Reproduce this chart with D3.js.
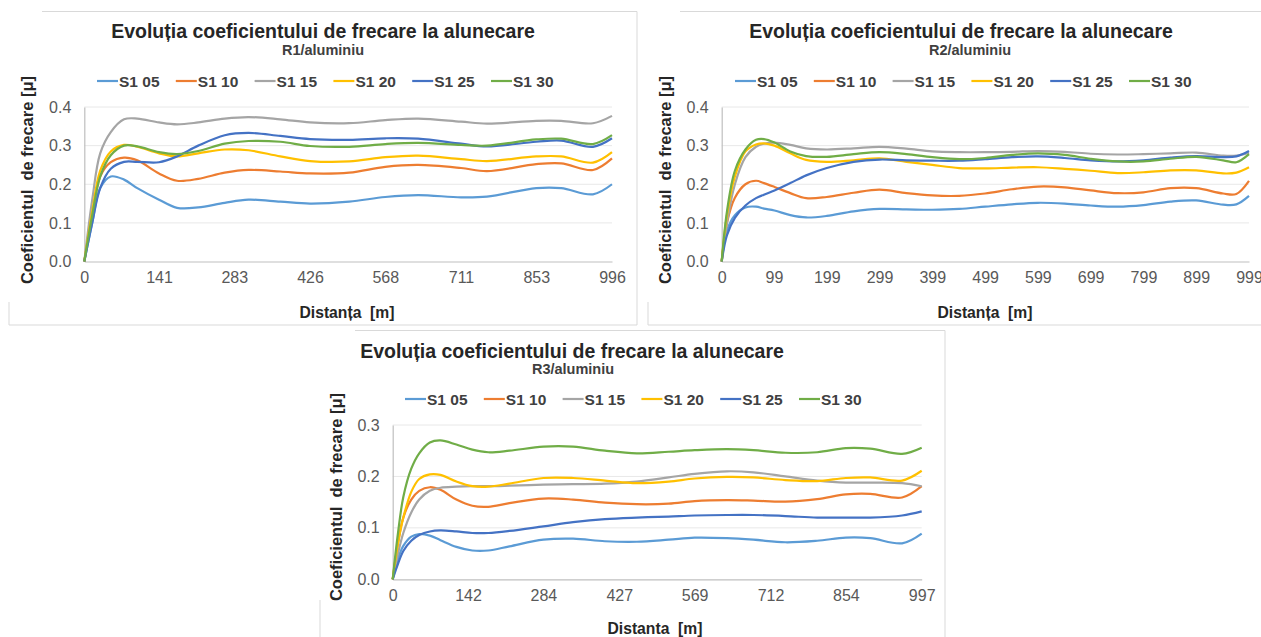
<!DOCTYPE html>
<html><head><meta charset="utf-8">
<script src="https://cdn.jsdelivr.net/npm/d3@7"></script>
<style>
html,body{margin:0;padding:0;background:#fff;}
svg{display:block;font-family:"Liberation Sans",Arial,sans-serif;}
text.pre{white-space:pre;}
</style></head>
<body><svg id="c" width="1261" height="637"></svg>
<script>
// ---------- DATA ----------
const seriesNames = ["S1 05","S1 10","S1 15","S1 20","S1 25","S1 30"];
const chartTitle = "Evoluția coeficientului de frecare la alunecare";
const subtitles = ["R1/aluminiu","R2/aluminiu","R3/aluminiu"];
const yTitle = "Coeficientul  de frecare [μ]";
const xTitles = ["Distanța  [m]","Distanța  [m]","Distanta  [m]"];

// R1
const r1Ticks = [0,141,283,426,568,711,853,996];
const r1YTicks = [0,0.1,0.2,0.3,0.4];
const r1X   = [0,15,30,50,75,100,141,175,215,265,310,370,426,500,568,630,711,760,853,900,960,996];
const r1S05 = [0,0.10,0.19,0.22,0.212,0.19,0.16,0.139,0.14,0.152,0.16,0.155,0.15,0.155,0.167,0.172,0.166,0.168,0.19,0.19,0.174,0.20];
const r1S10 = [0,0.12,0.22,0.257,0.269,0.262,0.228,0.209,0.214,0.23,0.237,0.233,0.228,0.23,0.245,0.25,0.242,0.234,0.252,0.254,0.237,0.267];
const r1S15 = [0,0.16,0.28,0.335,0.368,0.37,0.36,0.355,0.36,0.37,0.374,0.368,0.36,0.358,0.366,0.37,0.362,0.357,0.364,0.364,0.358,0.377];
const r1S20 = [0,0.13,0.235,0.285,0.302,0.297,0.28,0.272,0.28,0.29,0.288,0.272,0.26,0.259,0.27,0.274,0.265,0.26,0.272,0.272,0.256,0.283];
const r1S25 = [0,0.10,0.19,0.24,0.258,0.258,0.257,0.272,0.30,0.327,0.333,0.325,0.317,0.315,0.319,0.318,0.305,0.298,0.31,0.313,0.297,0.319];
const r1S30 = [0,0.12,0.22,0.275,0.30,0.298,0.283,0.278,0.286,0.305,0.312,0.31,0.299,0.297,0.304,0.307,0.302,0.30,0.316,0.318,0.304,0.327];

// R2
const r2Ticks = [0,99,199,299,399,499,599,699,799,899,999];
const r2YTicks = [0,0.1,0.2,0.3,0.4];
const r2X   = [0,10,25,45,65,80,100,130,160,199,250,299,350,399,450,499,550,599,650,699,750,799,850,899,950,975,999];
const r2S05 = [0,0.08,0.12,0.14,0.142,0.137,0.132,0.12,0.114,0.118,0.13,0.136,0.135,0.134,0.136,0.142,0.148,0.152,0.15,0.145,0.142,0.146,0.155,0.158,0.147,0.148,0.17];
const r2S10 = [0,0.10,0.165,0.20,0.209,0.203,0.193,0.177,0.164,0.167,0.178,0.186,0.177,0.171,0.17,0.176,0.187,0.194,0.192,0.184,0.177,0.179,0.19,0.19,0.176,0.175,0.209];
const r2S15 = [0,0.10,0.20,0.27,0.297,0.305,0.308,0.302,0.293,0.29,0.293,0.297,0.292,0.285,0.283,0.283,0.284,0.286,0.284,0.279,0.277,0.278,0.28,0.282,0.274,0.274,0.282];
const r2S20 = [0,0.12,0.22,0.285,0.303,0.306,0.30,0.28,0.263,0.258,0.262,0.267,0.258,0.25,0.242,0.241,0.243,0.244,0.24,0.235,0.229,0.231,0.236,0.236,0.228,0.23,0.244];
const r2S25 = [0,0.068,0.113,0.145,0.164,0.173,0.184,0.203,0.223,0.242,0.258,0.264,0.262,0.261,0.261,0.265,0.27,0.272,0.268,0.262,0.259,0.262,0.269,0.273,0.27,0.272,0.286];
const r2S30 = [0,0.13,0.235,0.29,0.315,0.317,0.308,0.285,0.273,0.271,0.278,0.283,0.278,0.27,0.265,0.268,0.276,0.28,0.276,0.266,0.259,0.259,0.266,0.271,0.262,0.257,0.278];

// R3
const r3Ticks = [0,142,284,427,569,712,854,997];
const r3YTicks = [0,0.1,0.2,0.3];
const r3X   = [0,10,20,35,50,70,90,120,150,180,220,284,340,400,460,520,569,630,680,740,800,854,900,960,997];
const r3S05 = [0,0.04,0.065,0.083,0.088,0.085,0.076,0.063,0.056,0.056,0.064,0.077,0.079,0.074,0.073,0.077,0.081,0.08,0.077,0.072,0.075,0.081,0.08,0.07,0.089];
const r3S10 = [0,0.07,0.12,0.155,0.172,0.179,0.174,0.155,0.143,0.141,0.148,0.157,0.155,0.149,0.146,0.147,0.152,0.154,0.153,0.151,0.156,0.165,0.166,0.159,0.181];
const r3S15 = [0,0.05,0.09,0.13,0.155,0.172,0.178,0.18,0.181,0.181,0.182,0.184,0.185,0.186,0.19,0.198,0.205,0.21,0.208,0.20,0.192,0.188,0.188,0.187,0.181];
const r3S20 = [0,0.07,0.12,0.17,0.195,0.204,0.203,0.19,0.181,0.18,0.186,0.197,0.197,0.192,0.187,0.19,0.196,0.199,0.198,0.193,0.191,0.197,0.198,0.192,0.211];
const r3S25 = [0,0.03,0.055,0.075,0.086,0.093,0.095,0.093,0.09,0.09,0.094,0.103,0.111,0.117,0.12,0.122,0.124,0.125,0.125,0.123,0.12,0.12,0.12,0.124,0.132];
const r3S30 = [0,0.09,0.16,0.215,0.245,0.266,0.27,0.262,0.252,0.247,0.25,0.258,0.258,0.25,0.245,0.248,0.251,0.253,0.251,0.246,0.247,0.255,0.254,0.244,0.256];

// ---------- STYLE / LAYOUT ----------
const colors = ["#5B9BD5","#ED7D31","#A5A5A5","#FFC000","#4472C4","#70AD47"];
const svg = d3.select("#c");

const panels = [
  {x: r1X, s: [r1S05,r1S10,r1S15,r1S20,r1S25,r1S30], ticks: r1Ticks, yTicks: r1YTicks, xMax: 996, yMax: 0.4,
   L: 84.3, R: 612, T: 107, B: 261.5, titleX: 323, titleY: 38, subX: 323, subY: 55, legX: 97, legY: 81,
   yTitleX: 27, yTitleY: 180, xTitleX: 347, xTitleY: 318, sub: subtitles[0], xt: xTitles[0]},
  {x: r2X, s: [r2S05,r2S10,r2S15,r2S20,r2S25,r2S30], ticks: r2Ticks, yTicks: r2YTicks, xMax: 999, yMax: 0.4,
   L: 721.7, R: 1249, T: 107, B: 261.5, titleX: 961, titleY: 38, subX: 970, subY: 55, legX: 735, legY: 81,
   yTitleX: 665, yTitleY: 180, xTitleX: 985, xTitleY: 318, sub: subtitles[1], xt: xTitles[1]},
  {x: r3X, s: [r3S05,r3S10,r3S15,r3S20,r3S25,r3S30], ticks: r3Ticks, yTicks: r3YTicks, xMax: 997, yMax: 0.3,
   L: 392.7, R: 921.7, T: 425, B: 579.3, titleX: 572, titleY: 358, subX: 573, subY: 374, legX: 405, legY: 399,
   yTitleX: 336, yTitleY: 497, xTitleX: 655, xTitleY: 634, sub: subtitles[2], xt: xTitles[2]}
];

// frames (light gray borders, as in the screenshot)
const frameColor = "#d9d9d9";
const frames = [
  [42,11.5,637,11.5],[637,11.5,637,325],[9,325,637,325],[9,302,9,325],
  [680,11.5,1261,11.5],[648,325,1261,325],[648,302,648,325],
  [355,330.5,945,330.5],[945,330.5,945,637],[320,600,320,637]
];
svg.selectAll("line.frame").data(frames).enter().append("line")
  .attr("x1",d=>d[0]).attr("y1",d=>d[1]).attr("x2",d=>d[2]).attr("y2",d=>d[3])
  .attr("stroke",frameColor).attr("stroke-width",1);

panels.forEach(p => {
  const g = svg.append("g");
  const x = d3.scaleLinear().domain([0,p.xMax]).range([p.L,p.R]);
  const y = d3.scaleLinear().domain([0,p.yMax]).range([p.B,p.T]);

  // gridlines
  g.selectAll("line.grid").data(p.yTicks.filter(v=>v>0)).enter().append("line")
    .attr("x1",p.L).attr("x2",p.R).attr("y1",d=>y(d)).attr("y2",d=>y(d))
    .attr("stroke","#e8e8e8").attr("stroke-width",1);

  // y axis
  const ya = g.append("g").attr("transform",`translate(${p.L},0)`)
    .call(d3.axisLeft(y).tickValues(p.yTicks).tickFormat(d3.format(".1f")).tickSize(0).tickPadding(13));
  ya.select(".domain").attr("stroke","#bfbfbf").attr("stroke-width",1.2);
  ya.selectAll("text").attr("font-size",16).attr("fill","#595959").attr("font-family","Liberation Sans, Arial, sans-serif");

  // x axis
  const xa = g.append("g").attr("transform",`translate(0,${p.B})`)
    .call(d3.axisBottom(x).tickValues(p.ticks).tickFormat(d3.format("d")).tickSize(0).tickPadding(10));
  xa.select(".domain").attr("stroke","#bfbfbf").attr("stroke-width",1.2);
  xa.selectAll("text").attr("font-size",16).attr("fill","#595959").attr("font-family","Liberation Sans, Arial, sans-serif");

  // lines
  const line = d3.line().x((d,i)=>x(p.x[i])).y(d=>y(d)).curve(d3.curveCatmullRom.alpha(0.5));
  p.s.forEach((vals,i) => {
    g.append("path").datum(vals).attr("d",line).attr("fill","none")
      .attr("stroke",colors[i]).attr("stroke-width",2.2).attr("stroke-linejoin","round");
  });

  // titles
  g.append("text").attr("x",p.titleX).attr("y",p.titleY).attr("text-anchor","middle")
    .attr("font-size",19.5).attr("font-weight","bold").attr("fill","#262626").text(chartTitle);
  g.append("text").attr("x",p.subX).attr("y",p.subY).attr("text-anchor","middle")
    .attr("font-size",14.5).attr("font-weight","bold").attr("fill","#404040").text(p.sub);

  // legend
  const step = 78.8;
  seriesNames.forEach((n,i) => {
    const lx = p.legX + i*step;
    g.append("line").attr("x1",lx).attr("x2",lx+21).attr("y1",p.legY).attr("y2",p.legY)
      .attr("stroke",colors[i]).attr("stroke-width",2.2);
    g.append("text").attr("x",lx+22).attr("y",p.legY+5.5).attr("font-size",15.5)
      .attr("font-weight","bold").attr("fill","#404040").text(n);
  });

  // axis titles
  g.append("text").attr("class","pre").attr("transform",`translate(${p.yTitleX},${p.yTitleY}) rotate(-90)`)
    .attr("text-anchor","middle").attr("dy","0.35em").attr("font-size",16.5).attr("font-weight","bold")
    .attr("fill","#262626").text(yTitle);
  g.append("text").attr("class","pre").attr("x",p.xTitleX).attr("y",p.xTitleY).attr("text-anchor","middle")
    .attr("font-size",15.7).attr("font-weight","bold").attr("fill","#262626").text(p.xt);
});
</script></body></html>
